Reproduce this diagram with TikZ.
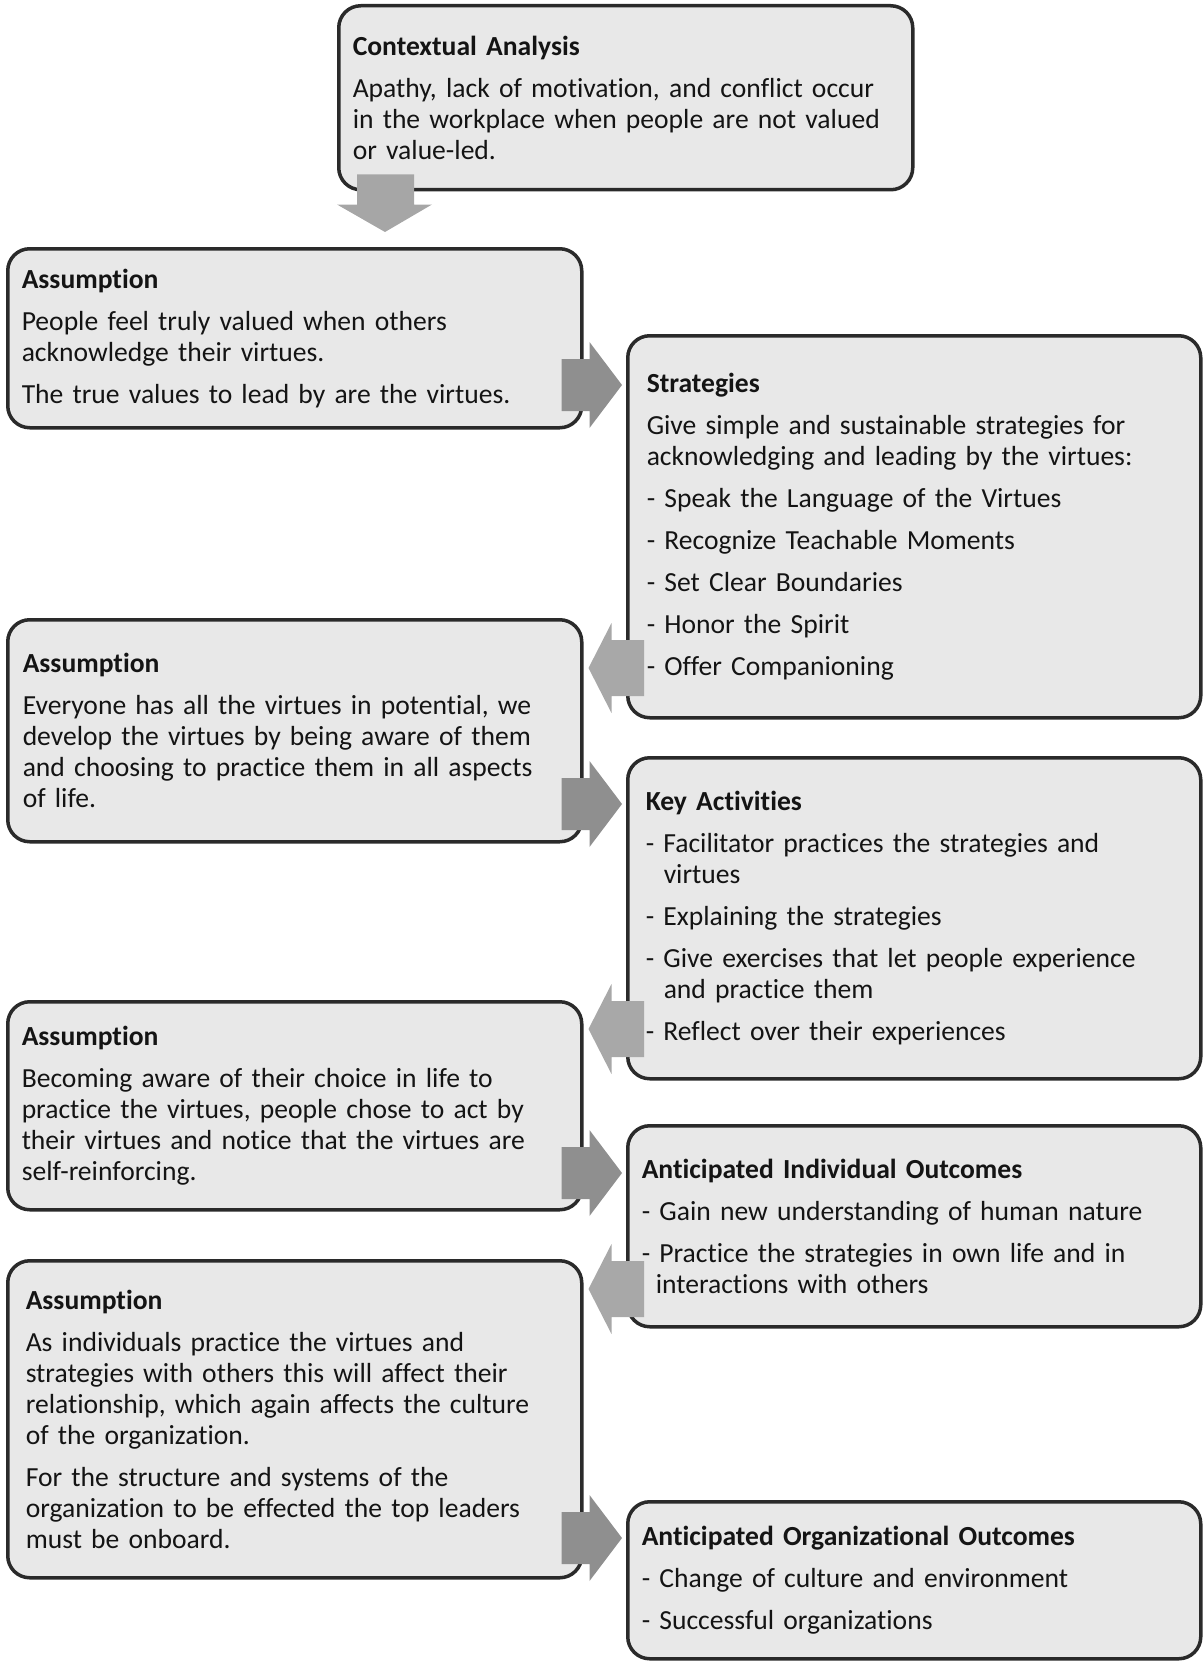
\documentclass[tikz,border=0pt]{standalone}
\usepackage{fontspec}
\setmainfont{Carlito}[Ligatures=NoCommon]
\usetikzlibrary{calc}
\definecolor{boxfill}{HTML}{E8E8E8}
\definecolor{boxline}{HTML}{2A2A2A}
\definecolor{arrR}{HTML}{8F8F8F}
\definecolor{arrL}{HTML}{A8A8A8}
\definecolor{arrD}{HTML}{A6A6A6}
\definecolor{txt}{HTML}{141414}
\newcommand\rightblock[3]{%
  \path (#1.east |- 0,#3) coordinate (rs) (#2.west |- 0,#3) coordinate (rt);
  \fill[arrR] ($(rs)+(-22,-26)$) -- ($(rs)+(6,-26)$) -- ($(rs)+(6,-43)$) -- ($(rt)+(-4,0)$)
    -- ($(rs)+(6,43)$) -- ($(rs)+(6,26)$) -- ($(rs)+(-22,26)$) -- cycle;}
\newcommand\leftblock[3]{%
  \path (#1.west |- 0,#3) coordinate (ls) (#2.east |- 0,#3) coordinate (lt);
  \fill[arrL] ($(ls)+(18,-28)$) -- ($(lt)+(28,-28)$) -- ($(lt)+(28,-45)$) -- ($(lt)+(5,0)$)
    -- ($(lt)+(28,45)$) -- ($(lt)+(28,28)$) -- ($(ls)+(18,28)$) -- cycle;}
\begin{document}
\begin{tikzpicture}[x=1pt,y=-1pt,
  box/.style={draw=boxline, line width=3.5pt, fill=boxfill, rounded corners=22pt,
    anchor=north west, align=left, inner ysep=0pt, text=txt,
    font=\fontsize{27.6}{31}\selectfont},
]
\useasboundingbox (0,0) rectangle (1203,1664);

\node[box, inner xsep=14pt, text width=546pt, minimum height=184pt] (ctx) at (337,4)
  {\textbf{Contextual Analysis}\\[11pt]Apathy, lack of motivation, and conflict occur\\in the workplace when people are not valued\\or value-led.};

\node[box, inner xsep=14pt, text width=546pt, minimum height=179pt] (a1) at (6,247)
  {\textbf{Assumption}\\[11pt]People feel truly valued when others\\acknowledge their virtues.\\[11pt]The true values to lead by are the virtues.};

\node[box, inner xsep=19pt, text width=535pt, minimum height=382pt] (strat) at (626,334)
  {\textbf{Strategies}\\[11pt]Give simple and sustainable strategies for\\acknowledging and leading by the virtues:\\[11pt]- Speak the Language of the Virtues\\[11pt]- Recognize Teachable Moments\\[11pt]- Set Clear Boundaries\\[11pt]- Honor the Spirit\\[11pt]- Offer Companioning};

\node[box, inner xsep=15pt, text width=544pt, minimum height=222pt] (a2) at (6,618)
  {\textbf{Assumption}\\[11pt]Everyone has all the virtues in potential, we\\develop the virtues by being aware of them\\and choosing to practice them in all aspects\\of life.};

\node[box, inner xsep=18pt, text width=537pt, minimum height=321pt] (key) at (626,756)
  {\textbf{Key Activities}\\[11pt]- Facilitator practices the strategies and\\\hspace*{18pt}virtues\\[11pt]- Explaining the strategies\\[11pt]- Give exercises that let people experience\\\hspace*{18pt}and practice them\\[11pt]- Reflect over their experiences};

\node[box, inner xsep=14pt, text width=546pt, minimum height=208pt] (a3) at (6,1000)
  {\textbf{Assumption}\\[11pt]Becoming aware of their choice in life to\\practice the virtues, people chose to act by\\their virtues and notice that the virtues are\\self-reinforcing.};

\node[box, inner xsep=14pt, text width=545pt, minimum height=201pt] (indiv) at (626,1124)
  {\textbf{Anticipated Individual Outcomes}\\[11pt]- Gain new understanding of human nature\\[11pt]- Practice the strategies in own life and in\\\hspace*{14pt}interactions with others};

\node[box, inner xsep=18pt, text width=538pt, minimum height=317pt] (a4) at (6,1259)
  {\textbf{Assumption}\\[11pt]As individuals practice the virtues and\\strategies with others this will affect their\\relationship, which again affects the culture\\of the organization.\\[11pt]For the structure and systems of the\\organization to be effected the top leaders\\must be onboard.};

\node[box, inner xsep=14pt, text width=545pt, minimum height=157pt] (org) at (626,1500)
  {\textbf{Anticipated Organizational Outcomes}\\[11pt]- Change of culture and environment\\[11pt]- Successful organizations};

% down arrow
\fill[arrD] ($(ctx.south west)+(20,-17)$) -- ($(ctx.south west)+(77,-17)$) -- ($(ctx.south west)+(77,13)$)
  -- ($(ctx.south west)+(95,13)$) -- ($(ctx.south west |- a1.north)+(48,-15)$)
  -- ($(ctx.south west)+(0,13)$) -- ($(ctx.south west)+(20,13)$) -- cycle;

\rightblock{a1}{strat}{385}
\leftblock{strat}{a2}{668}
\rightblock{a2}{key}{804}
\leftblock{key}{a3}{1029}
\rightblock{a3}{indiv}{1173}
\leftblock{indiv}{a4}{1289}
\rightblock{a4}{org}{1538}
\end{tikzpicture}
\end{document}
